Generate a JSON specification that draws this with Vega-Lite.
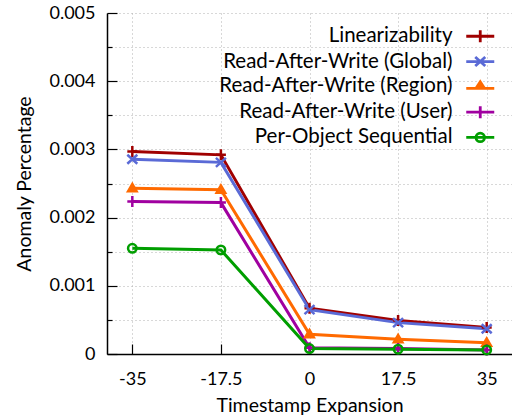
{
  "$schema": "https://vega.github.io/schema/vega-lite/v6.json",
  "autosize": "none",
  "width": 405,
  "height": 341,
  "padding": {"left": 107, "top": 13, "right": 0, "bottom": 65},
  "background": "white",
  "config": {
    "view": {"stroke": null},
    "font": "Lato",
    "axis": {
      "labelFont": "Lato", "labelFontSize": 18, "labelColor": "black",
      "titleFont": "Lato", "titleFontSize": 19.5, "titleFontWeight": "normal", "titleColor": "black",
      "domainColor": "black", "domainWidth": 1.5,
      "tickColor": "black", "tickWidth": 1.2,
      "gridColor": "#b0b0b0", "gridDash": [1, 3], "gridWidth": 1
    }
  },
  "data": {
    "values": [
      {"series": "Linearizability", "x": -35, "y": 0.00297},
      {"series": "Linearizability", "x": -17.5, "y": 0.00292},
      {"series": "Linearizability", "x": 0, "y": 0.00067},
      {"series": "Linearizability", "x": 17.5, "y": 0.00049},
      {"series": "Linearizability", "x": 35, "y": 0.00039},
      {"series": "Read-After-Write (Global)", "x": -35, "y": 0.002855},
      {"series": "Read-After-Write (Global)", "x": -17.5, "y": 0.00281},
      {"series": "Read-After-Write (Global)", "x": 0, "y": 0.00065},
      {"series": "Read-After-Write (Global)", "x": 17.5, "y": 0.00046},
      {"series": "Read-After-Write (Global)", "x": 35, "y": 0.00037},
      {"series": "Read-After-Write (Region)", "x": -35, "y": 0.00243},
      {"series": "Read-After-Write (Region)", "x": -17.5, "y": 0.00241},
      {"series": "Read-After-Write (Region)", "x": 0, "y": 0.00029},
      {"series": "Read-After-Write (Region)", "x": 17.5, "y": 0.000215},
      {"series": "Read-After-Write (Region)", "x": 35, "y": 0.000166},
      {"series": "Read-After-Write (User)", "x": -35, "y": 0.002235},
      {"series": "Read-After-Write (User)", "x": -17.5, "y": 0.00222},
      {"series": "Read-After-Write (User)", "x": 0, "y": 0.00009},
      {"series": "Read-After-Write (User)", "x": 17.5, "y": 0.00008},
      {"series": "Read-After-Write (User)", "x": 35, "y": 0.00006},
      {"series": "Per-Object Sequential", "x": -35, "y": 0.00155},
      {"series": "Per-Object Sequential", "x": -17.5, "y": 0.001525},
      {"series": "Per-Object Sequential", "x": 0, "y": 0.00008},
      {"series": "Per-Object Sequential", "x": 17.5, "y": 0.00007},
      {"series": "Per-Object Sequential", "x": 35, "y": 0.00006}
    ]
  },
  "encoding": {
    "x": {
      "field": "x", "type": "quantitative",
      "scale": {"domain": [-40, 40], "nice": false, "zero": false},
      "axis": {
        "title": "Timestamp Expansion",
        "values": [-35, -17.5, 0, 17.5, 35],
        "labelExpr": "toString(datum.value)",
        "tickSize": -10, "labelPadding": 26, "titlePadding": 8,
        "grid": true
      }
    },
    "y": {
      "field": "y", "type": "quantitative",
      "scale": {"domain": [0, 0.005], "nice": false},
      "axis": {
        "title": "Anomaly Percentage",
        "values": [0, 0.0005, 0.001, 0.0015, 0.002, 0.0025, 0.003, 0.0035, 0.004, 0.0045, 0.005],
        "labelExpr": "round(datum.value*10000) % 10 == 0 ? (datum.value == 0 ? '0' : format(datum.value, '.3f')) : ''",
        "tickSize": {"condition": {"test": "round(datum.value*10000) % 10 == 0", "value": -10}, "value": -5},
        "labelPadding": 22, "titlePadding": 14,
        "grid": true
      }
    }
  },
  "layer": [
    {
      "mark": {"type": "line", "strokeWidth": 3},
      "encoding": {
        "color": {
          "field": "series", "type": "nominal", "legend": null,
          "scale": {
            "domain": ["Linearizability", "Read-After-Write (Global)", "Read-After-Write (Region)", "Read-After-Write (User)", "Per-Object Sequential"],
            "range": ["#a00000", "#5a6ad6", "#ff6a00", "#a000a0", "#009e00"]
          }
        }
      }
    },
    {
      "mark": {"type": "point", "filled": false, "size": 100, "strokeWidth": 2.5, "opacity": 1},
      "encoding": {
        "color": {
          "field": "series", "type": "nominal", "legend": null,
          "scale": {
            "domain": ["Linearizability", "Read-After-Write (Global)", "Read-After-Write (Region)", "Read-After-Write (User)", "Per-Object Sequential"],
            "range": ["#a00000", "#5a6ad6", "#ff6a00", "#a000a0", "#009e00"]
          }
        },
        "shape": {
          "field": "series", "type": "nominal", "legend": null,
          "scale": {
            "domain": ["Linearizability", "Read-After-Write (Global)", "Read-After-Write (Region)", "Read-After-Write (User)", "Per-Object Sequential"],
            "range": [
              "M-1,0H1M0,-1.1V1.1",
              "M-1,-0.9L1,0.9M-1,0.9L1,-0.9",
              "M-0.85,0.6L0,-0.85L0.85,0.6ZM-0.4,0.3L0,-0.4L0.4,0.3Z",
              "M-1,0H1M0,-1.1V1.1",
              "M-0.85,0A0.85,0.85 0 1,0 0.85,0A0.85,0.85 0 1,0 -0.85,0"
            ]
          }
        }
      }
    },
    {
      "mark": {"type": "point", "filled": false, "size": 100, "strokeWidth": 2.5, "opacity": 0},
      "encoding": {
        "color": {
          "field": "series", "type": "nominal",
          "scale": {
            "domain": ["Linearizability", "Read-After-Write (Global)", "Read-After-Write (Region)", "Read-After-Write (User)", "Per-Object Sequential"],
            "range": ["#a00000", "#5a6ad6", "#ff6a00", "#a000a0", "#009e00"]
          },
          "legend": {
            "title": null, "orient": "none", "legendX": 363, "legendY": 13,
            "labelAlign": "right", "labelOffset": -38, "labelFont": "Lato", "labelFontSize": 20.5,
            "labelColor": "black", "labelLimit": 0, "symbolOpacity": 1, "symbolStrokeWidth": 2.8,
            "symbolSize": 100, "rowPadding": 3.3, "padding": 0
          }
        },
        "shape": {
          "field": "series", "type": "nominal",
          "scale": {
            "domain": ["Linearizability", "Read-After-Write (Global)", "Read-After-Write (Region)", "Read-After-Write (User)", "Per-Object Sequential"],
            "range": [
              "M-2.8,0H2.8M0,-1.2V1.2",
              "M-2.8,0H2.8M-1,-0.9L1,0.9M-1,0.9L1,-0.9",
              "M-2.8,0.5H2.8M-0.85,0.5L0,-0.8L0.85,0.5ZM-0.4,0.3L0,-0.4L0.4,0.3Z",
              "M-2.8,0H2.8M0,-1.2V1.2",
              "M-2.8,0H2.8M-0.85,0A0.85,0.85 0 1,0 0.85,0A0.85,0.85 0 1,0 -0.85,0"
            ]
          },
          "legend": {
            "title": null, "orient": "none", "legendX": 363, "legendY": 13,
            "labelAlign": "right", "labelOffset": -38, "labelFont": "Lato", "labelFontSize": 20.5,
            "labelColor": "black", "labelLimit": 0, "symbolOpacity": 1, "symbolStrokeWidth": 2.8,
            "symbolSize": 100, "rowPadding": 3.3, "padding": 0
          }
        }
      }
    }
  ],
  "resolve": {
    "scale": {"color": "independent", "shape": "independent"},
    "legend": {"color": "independent", "shape": "independent"}
  }
}
